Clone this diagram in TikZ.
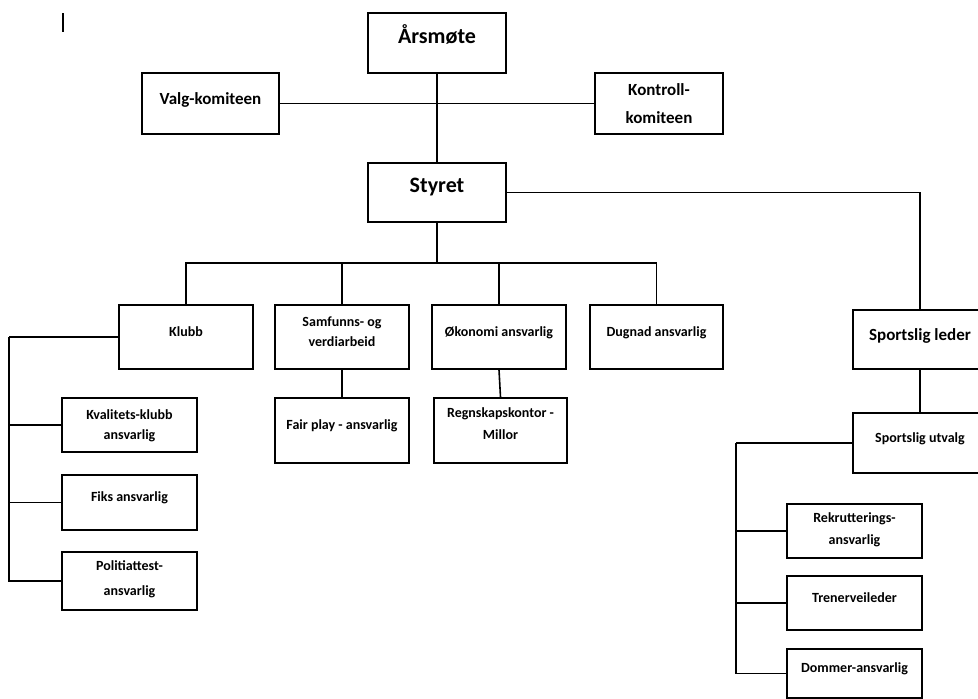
\documentclass[tikz,border=0pt]{standalone}
\usepackage{fontspec}
\setmainfont{Carlito}
\usepackage{tikz}
\newcommand{\liftup}[2][5pt]{\raisebox{#1}[\height][\depth]{\begin{tabular}{@{}c@{}}#2\end{tabular}}}

\begin{document}
\begin{tikzpicture}[x=1pt,y=-1pt,line width=1.6pt,
    box/.style={draw,fill=white,inner sep=2pt,font=\bfseries\fontsize{14}{20}\selectfont},
    bigbox/.style={box,font=\bfseries\fontsize{22}{26}\selectfont},
    midbox/.style={box,font=\bfseries\fontsize{17}{28}\selectfont}]
      \useasboundingbox (0,0) rectangle (978,699);
      \draw[line width=2pt] (63,13) -- (63,32);

      \node[bigbox,minimum width=138,minimum height=60] (arsmote) at (437,43) {\liftup{Årsmøte}};
      \node[bigbox,minimum width=138,minimum height=59] (styret) at (437,192.5) {\liftup{Styret}};
      \node[midbox,minimum width=137,minimum height=61] (valg) at (210.5,103.5) {\liftup{Valg-komiteen}};
      \node[midbox,minimum width=128,minimum height=61] (kontroll) at (659,103.5) {\liftup[0pt]{Kontroll-\\komiteen}};

      \node[box,minimum width=134,minimum height=64] (klubb) at (186,337) {\liftup{Klubb}};
      \node[box,minimum width=134,minimum height=64] (samfunn) at (342,337) {\liftup{Samfunns- og\\verdiarbeid}};
      \node[box,minimum width=134,minimum height=64] (okonomi) at (499,337) {\liftup{Økonomi ansvarlig}};
      \node[box,minimum width=133,minimum height=64] (dugnad) at (656.5,337) {\liftup{Dugnad ansvarlig}};
      \node[box,minimum width=134,minimum height=65] (fairplay) at (342,430.5) {\liftup{Fair play - ansvarlig}};
      \node[box,minimum width=133,minimum height=65] (regnskap) at (500.5,430.5) {\liftup[6pt]{Regnskapskontor -\\[2pt]Millor}};

      \node[box,minimum width=135,minimum height=54] (kvalitet) at (129.5,425) {\liftup[0pt]{Kvalitets-klubb\\ansvarlig}};
      \node[box,minimum width=135,minimum height=55] (fiks) at (129.5,502.5) {\liftup{Fiks ansvarlig}};
      \node[box,minimum width=135,minimum height=58] (politi) at (129.5,581) {\liftup[2pt]{Politiattest-\\[5pt]ansvarlig}};

      \node[midbox,minimum width=134,minimum height=59] (sportsleder) at (920,339.5) {\liftup{Sportslig leder}};
      \node[box,minimum width=134,minimum height=60] (utvalg) at (920,443) {\liftup{Sportslig utvalg}};
      \node[box,minimum width=135,minimum height=54] (rekrutt) at (854.5,531) {\liftup[2pt]{Rekrutterings-\\[2pt]ansvarlig}};
      \node[box,minimum width=135,minimum height=54] (trener) at (854.5,603) {\liftup{Trenerveileder}};
      \node[box,minimum width=135,minimum height=49] (dommer) at (854.5,673.5) {\liftup{Dommer-ansvarlig}};

      \draw (arsmote.south) -- (styret.north);
      \draw (valg.east) -- (kontroll.west);
      \draw (styret.east) -| (sportsleder.north);
      \coordinate (bus) at (437,263);
      \draw (styret.south) -- (bus);
      \foreach \n in {klubb,samfunn,okonomi,dugnad}
        \draw (bus) -| (\n.north);
      \draw (samfunn.south) -- (fairplay.north);
      \draw (okonomi.south) -- (regnskap.north);
      \draw (sportsleder.south) -- (utvalg.north);

      \coordinate (klubbside) at (9,337);
      \draw (klubb.west) -- (klubbside);
      \foreach \n in {kvalitet,fiks,politi}
        \draw (klubbside) |- (\n.west);
      \coordinate (utvalgside) at (736,443);
      \draw (utvalg.west) -- (utvalgside);
      \foreach \n in {rekrutt,trener,dommer}
        \draw (utvalgside) |- (\n.west);
\end{tikzpicture}
\end{document}
